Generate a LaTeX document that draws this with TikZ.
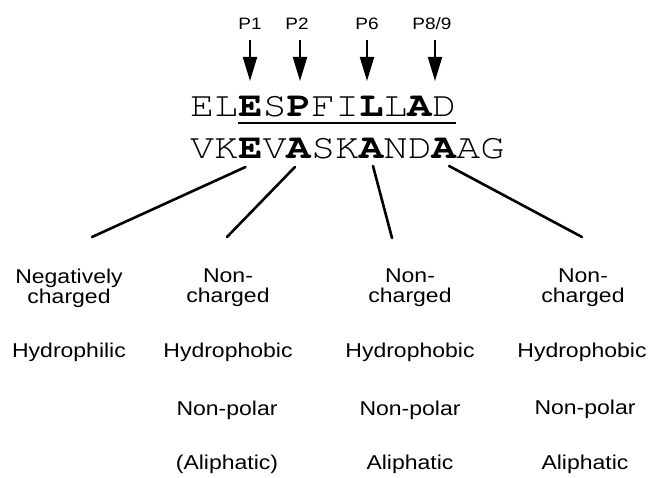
\documentclass[tikz,border=0pt]{standalone}
\usepackage{fontspec}
\usetikzlibrary{arrows.meta}
\newfontfamily\labfont[FakeStretch=1.15]{Liberation Sans}
\newfontfamily\seqfont[FakeStretch=1.15]{TeX Gyre Cursor}
\tikzset{
  lab/.style={font=\labfont\fontsize{20}{20}\selectfont, inner sep=0pt, align=center},
  plab/.style={font=\labfont\fontsize{16.5}{16.5}\selectfont, inner sep=0pt, anchor=base},
  seqch/.style={font=\seqfont\fontsize{35}{35}\selectfont, inner sep=0pt, anchor=base, minimum width=24.2pt},
  posarrow/.style={line width=2pt, -{Triangle[length=24pt,width=14pt]}},
  conn/.style={line width=2.6pt, line cap=round},
  uline/.style={line width=2.6pt}
}
\begin{document}
\begin{tikzpicture}[x=1pt,y=-1pt]
\useasboundingbox (0,0) rectangle (648,478);
% sequences
\foreach \ch [count=\i] in {E,L,\textbf{E},S,\textbf{P},F,I,\textbf{L},L,\textbf{A},D}
  \node[seqch] (a\i) at ({190+(\i-0.5)*24.2},117) {\ch};
\foreach \ch [count=\i] in {V,K,\textbf{E},V,\textbf{A},S,K,\textbf{A},N,D,\textbf{A},A,G}
  \node[seqch] (b\i) at ({190+(\i-0.5)*24.2},159) {\ch};
\draw[uline] ([yshift=-6pt]a3.base west) -- ([yshift=-6pt]a11.base east);
% position labels and arrows
\node[plab] (p1) at (250,30) {P1};
\node[plab] (p2) at (297,30) {P2};
\node[plab] (p6) at (367,30) {P6};
\node[plab] (p89) at (432,30) {P8/9};
\coordinate (p1s) at (250,40); \coordinate (p1t) at (250,81);
\coordinate (p2s) at (300,40); \coordinate (p2t) at (300,81);
\coordinate (p6s) at (367,40); \coordinate (p6t) at (367,81);
\coordinate (p89s) at (435,40); \coordinate (p89t) at (435,81);
\draw[posarrow] (p1s) -- (p1t);
\draw[posarrow] (p2s) -- (p2t);
\draw[posarrow] (p6s) -- (p6t);
\draw[posarrow] (p89s) -- (p89t);
% property labels
\node[lab, anchor=north] (c1a) at (69,268.5) {Negatively\\charged};
\node[lab, anchor=base] (c1b) at (69,358) {Hydrophilic};
\node[lab, anchor=north] (c2a) at (228,268.5) {Non-\\charged};
\node[lab, anchor=base] (c2b) at (228,358) {Hydrophobic};
\node[lab, anchor=base] (c2c) at (227,415) {Non-polar};
\node[lab, anchor=base] (c2d) at (227,469) {(Aliphatic)};
\node[lab, anchor=north] (c3a) at (410,268.5) {Non-\\charged};
\node[lab, anchor=base] (c3b) at (410,358) {Hydrophobic};
\node[lab, anchor=base] (c3c) at (410,415) {Non-polar};
\node[lab, anchor=base] (c3d) at (410,469) {Aliphatic};
\node[lab, anchor=north] (c4a) at (583,268.5) {Non-\\charged};
\node[lab, anchor=base] (c4b) at (582,358) {Hydrophobic};
\node[lab, anchor=base] (c4c) at (585,414) {Non-polar};
\node[lab, anchor=base] (c4d) at (585,469) {Aliphatic};
% connectors
\coordinate (s1) at ([shift={(-5pt,-8pt)}]b3.base);
\coordinate (s2) at ([shift={(-4pt,-8pt)}]b5.base);
\coordinate (s3) at ([shift={(1.5pt,-7pt)}]b8.base);
\coordinate (s4) at ([shift={(5pt,-7pt)}]b11.base);
\coordinate (e1) at (92,237);
\coordinate (e2) at (227,237);
\coordinate (e3) at (392,238);
\coordinate (e4) at (582,237);
\draw[conn] (s1) -- (e1);
\draw[conn] (s2) -- (e2);
\draw[conn] (s3) -- (e3);
\draw[conn] (s4) -- (e4);
\end{tikzpicture}
\end{document}
